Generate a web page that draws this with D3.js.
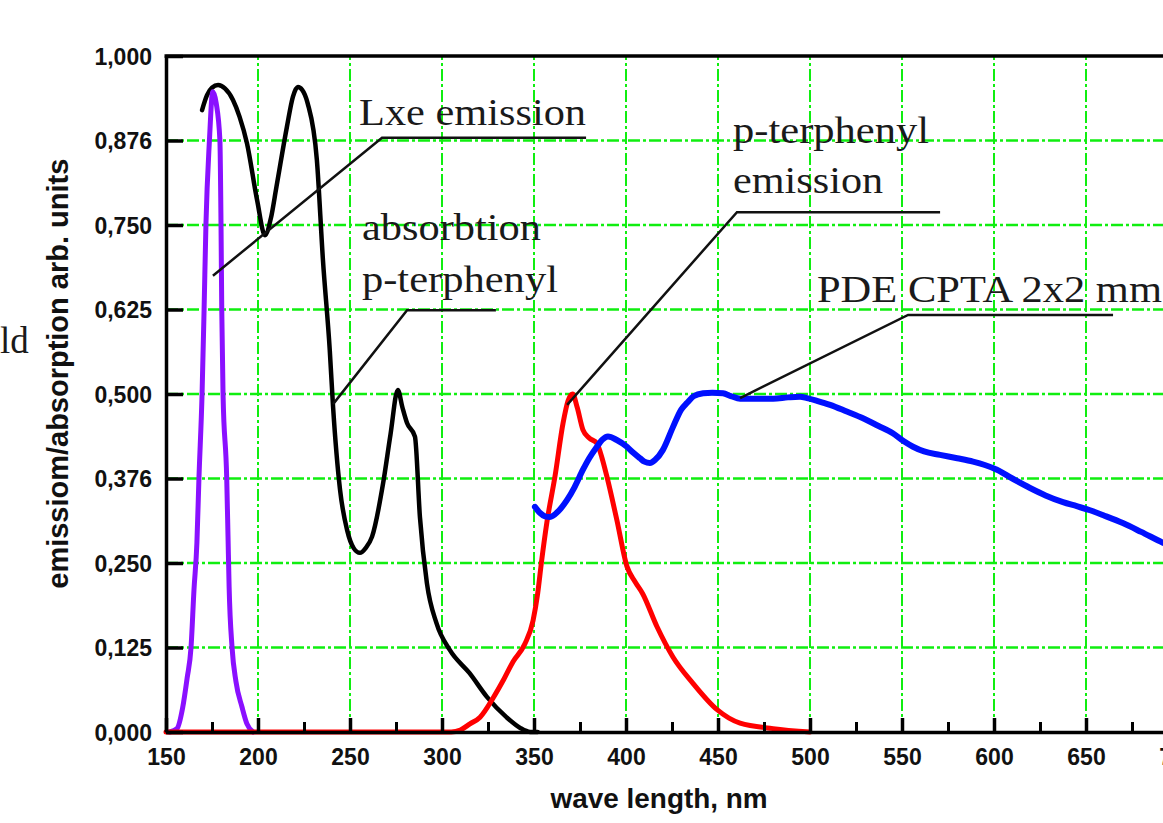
<!DOCTYPE html>
<html>
<head>
<meta charset="utf-8">
<script src="https://cdn.jsdelivr.net/npm/d3@7"></script>
<style>
  body { margin: 0; background: #fff; }
  svg { display: block; }
  .tick text { font-family: "Liberation Sans", Arial, sans-serif; font-weight: bold; font-size: 23px; fill: #111; }
  .note { font-family: "Liberation Serif", "Times New Roman", serif; font-size: 37px; fill: #1a1a1a; }
</style>
</head>
<body>
<svg id="chart" width="1163" height="823"></svg>
<script>
// LXe emission (violet)
const lxeNm  = [152, 156, 159, 161.5, 163.6, 165.2, 166.8, 167.9, 169.6, 170.7, 171.7, 173.6, 175.4, 177.3, 179.3, 179.9, 180.3, 181, 183, 183.7, 184.3, 185.9, 188, 191.3, 194, 197.3];
const lxeVal = [0, 0.005, 0.035, 0.08, 0.125, 0.21, 0.28, 0.375, 0.5, 0.625, 0.75, 0.875, 0.947, 0.93, 0.875, 0.75, 0.625, 0.5, 0.375, 0.29, 0.215, 0.125, 0.075, 0.037, 0.012, 0];

// p-terphenyl absorption (black)
const absNm  = [169.6, 172.3, 175, 178.3, 182, 186.4, 190, 194, 199.5, 203.8, 207, 210, 215.7, 219, 221.7, 224, 227, 232, 235.3, 239, 240.8, 244.6, 248.4, 252, 255.4, 258.5, 262, 268, 272, 276, 278.5, 281, 285.3, 288, 291.8, 297, 304.3, 315, 324.4, 335, 342.5, 348, 352];
const absVal = [0.92, 0.942, 0.953, 0.957, 0.952, 0.935, 0.91, 0.871, 0.787, 0.735, 0.76, 0.806, 0.895, 0.94, 0.954, 0.95, 0.93, 0.846, 0.698, 0.565, 0.481, 0.358, 0.299, 0.272, 0.265, 0.272, 0.289, 0.368, 0.44, 0.506, 0.48, 0.457, 0.437, 0.318, 0.22, 0.161, 0.121, 0.087, 0.052, 0.022, 0.006, 0, 0];

// p-terphenyl emission (red)
const emNm  = [150, 305, 310, 315.2, 320.7, 327.7, 333, 338.6, 345, 349.5, 352, 354, 357, 361.4, 365.8, 368.5, 371, 373.5, 376.6, 380, 384.2, 387, 389.6, 395, 400.5, 405, 409, 416.8, 425.5, 436.4, 449.5, 462, 480, 500];
const emVal = [0, 0, 0.003, 0.012, 0.022, 0.05, 0.075, 0.104, 0.13, 0.165, 0.205, 0.25, 0.31, 0.378, 0.457, 0.49, 0.5, 0.48, 0.447, 0.435, 0.427, 0.405, 0.378, 0.314, 0.245, 0.222, 0.205, 0.156, 0.111, 0.072, 0.033, 0.013, 0.005, 0];

// PDE CPTA 2x2 mm (blue)
const pdeNm  = [350.5, 353.3, 356, 358.7, 363, 367.9, 372, 376.6, 380, 384.2, 387, 390.2, 395, 400.5, 404, 407.6, 410, 413, 416, 420, 425.5, 430, 433.2, 437, 441.9, 447, 452.7, 457, 462, 470, 480, 488, 494.6, 498.4, 503.8, 510.9, 520, 528.8, 537, 545, 551, 556, 562, 570.7, 580, 588.6, 595, 601.6, 610, 619.6, 628, 637.5, 645, 652.2, 660, 670, 680, 691.8, 700];
const pdeVal = [0.333, 0.324, 0.319, 0.318, 0.326, 0.343, 0.362, 0.388, 0.405, 0.422, 0.432, 0.437, 0.432, 0.422, 0.413, 0.405, 0.4, 0.398, 0.403, 0.417, 0.451, 0.477, 0.487, 0.497, 0.501, 0.502, 0.501, 0.497, 0.493, 0.493, 0.493, 0.495, 0.496, 0.494, 0.49, 0.484, 0.474, 0.464, 0.453, 0.442, 0.43, 0.422, 0.415, 0.41, 0.405, 0.4, 0.395, 0.388, 0.375, 0.361, 0.35, 0.34, 0.334, 0.328, 0.32, 0.309, 0.296, 0.28, 0.27];

const xMajor = [150, 200, 250, 300, 350, 400, 450, 500, 550, 600, 650, 700];
const xMinor = [175, 225, 275, 325, 375, 425, 475, 525, 575, 625, 675];
const yTicks = [0, 0.125, 0.25, 0.375, 0.5, 0.625, 0.75, 0.875, 1];
const yTickLabels = ["0,000", "0,125", "0,250", "0,376", "0,500", "0,625", "0,750", "0,876", "1,000"];

const svg = d3.select("#chart");

const x = d3.scaleLinear().domain([150, 700]).range([166, 1178]);
const y = d3.scaleLinear().domain([0, 1]).range([732, 56]);

// grid
const green = "#10ee10";
svg.append("g").selectAll("line")
  .data(xMajor.slice(1))
  .enter().append("line")
  .attr("x1", d => x(d)).attr("x2", d => x(d))
  .attr("y1", y(0)).attr("y2", y(1))
  .attr("stroke", green).attr("stroke-width", 2)
  .attr("stroke-dasharray", "12,3,3,3");

svg.append("g").selectAll("line")
  .data(yTicks.slice(1, -1))
  .enter().append("line")
  .attr("x1", x(150)).attr("x2", x(700))
  .attr("y1", d => y(d)).attr("y2", d => y(d))
  .attr("stroke", green).attr("stroke-width", 2.5)
  .attr("stroke-dasharray", "12,3,3,3");

// curves
function draw(nm, val, color, width) {
  const pts = nm.map((d, i) => [d, val[i]]);
  const line = d3.line()
    .x(d => x(d[0]))
    .y(d => y(d[1]))
    .curve(d3.curveMonotoneX);
  svg.append("path")
    .datum(pts)
    .attr("d", line)
    .attr("fill", "none")
    .attr("stroke", color)
    .attr("stroke-width", width)
    .attr("stroke-linejoin", "round")
    .attr("stroke-linecap", "round");
}

draw(absNm, absVal, "#000000", 4.5);
draw(lxeNm, lxeVal, "#8a10ff", 5);
draw(emNm, emVal, "#ff0000", 5);
draw(pdeNm, pdeVal, "#0010ff", 6);

// axes
const yAxis = svg.append("g")
  .attr("transform", "translate(" + x(150) + ",0)")
  .call(d3.axisLeft(y)
    .tickValues(yTicks)
    .tickFormat((d, i) => yTickLabels[i])
    .tickSizeInner(-17)
    .tickSizeOuter(0)
    .tickPadding(14));
yAxis.select(".domain").attr("stroke", "#000").attr("stroke-width", 3.5);
yAxis.selectAll(".tick line").attr("stroke", "#000").attr("stroke-width", 3.5);
yAxis.selectAll(".tick text").attr("dy", "0.35em");

const xMinorAxis = svg.append("g")
  .attr("transform", "translate(0," + y(0) + ")")
  .call(d3.axisBottom(x).tickValues(xMinor).tickSizeInner(-10).tickSizeOuter(0).tickFormat(""));
xMinorAxis.select(".domain").remove();
xMinorAxis.selectAll(".tick line").attr("stroke", "#000").attr("stroke-width", 3);

const xAxis = svg.append("g")
  .attr("transform", "translate(0," + y(0) + ")")
  .call(d3.axisBottom(x).tickValues(xMajor).tickSizeInner(-14).tickSizeOuter(0).tickPadding(17));
xAxis.select(".domain").attr("stroke", "#000").attr("stroke-width", 3.5);
xAxis.selectAll(".tick line").attr("stroke", "#000").attr("stroke-width", 3.5);

// top frame
svg.append("line")
  .attr("x1", x(150) - 1.5).attr("x2", x(700))
  .attr("y1", y(1)).attr("y2", y(1))
  .attr("stroke", "#000").attr("stroke-width", 3.5);

// axis titles
svg.append("text")
  .attr("transform", "translate(68," + y(0.53) + ") rotate(-90)")
  .attr("text-anchor", "middle")
  .attr("font-family", "Liberation Sans, Arial, sans-serif")
  .attr("font-weight", "bold")
  .attr("font-size", 29)
  .attr("textLength", 430)
  .attr("lengthAdjust", "spacingAndGlyphs")
  .attr("fill", "#111")
  .text("emissiom/absorption arb. units");

svg.append("text")
  .attr("x", x(418))
  .attr("y", 808)
  .attr("text-anchor", "middle")
  .attr("font-family", "Liberation Sans, Arial, sans-serif")
  .attr("font-weight", "bold")
  .attr("font-size", 28)
  .attr("textLength", 217)
  .attr("lengthAdjust", "spacingAndGlyphs")
  .attr("fill", "#111")
  .text("wave length, nm");

// stray caption fragment at the left edge
svg.append("text").attr("class", "note")
  .attr("x", 0).attr("y", 353)
  .text("ld");

// annotations: leader from a curve point to an elbow, then a horizontal rule
const notes = [
  { lines: ["Lxe emission"], widths: [227], tx: 254.9, ty: [0.898], anchor: [175.5, 0.675], elbow: [267.4, 0.879], end: 378.3 },
  { lines: ["absorbtion", "p-terphenyl"], widths: [179, 196], tx: 256.5, ty: [0.728, 0.651], anchor: [240.8, 0.485], elbow: [281.0, 0.624], end: 329.3 },
  { lines: ["p-terphenyl", "emission"], widths: [196, 150], tx: 458.2, ty: [0.871, 0.797], anchor: [368.0, 0.484], elbow: [460.3, 0.769], end: 570.7 },
  { lines: ["PDE CPTA 2x2 mm"], widths: [345], tx: 503.8, ty: [0.636], anchor: [462.0, 0.494], elbow: [553.3, 0.617], end: 664.7 }
];

notes.forEach(n => {
  svg.append("path")
    .attr("d", "M" + x(n.anchor[0]) + "," + y(n.anchor[1]) +
               "L" + x(n.elbow[0]) + "," + y(n.elbow[1]) +
               "H" + x(n.end))
    .attr("fill", "none")
    .attr("stroke", "#111")
    .attr("stroke-width", 2.5);
  n.lines.forEach((t, i) => {
    svg.append("text").attr("class", "note")
      .attr("x", x(n.tx))
      .attr("y", y(n.ty[i]))
      .attr("textLength", n.widths[i])
      .attr("lengthAdjust", "spacingAndGlyphs")
      .text(t);
  });
});
</script>
</body>
</html>
